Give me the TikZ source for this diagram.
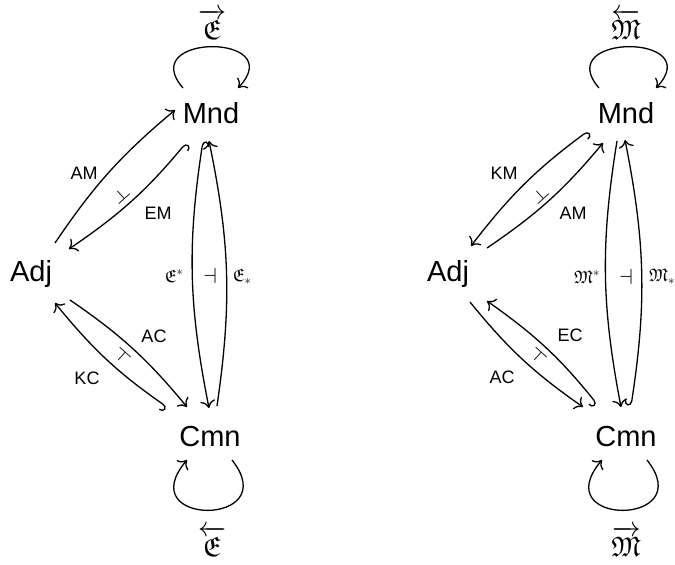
\RequirePackage{fix-cm}
\documentclass[tikz,border=0pt]{standalone}
\usepackage{amssymb}
\usepackage{fontspec}
\setmainfont{Liberation Sans}
\DeclareFontFamily{U}{euf}{}
\DeclareFontShape{U}{euf}{m}{n}{<-6>eufm5<6-8>eufm7<8->eufm10}{}
\usetikzlibrary{arrows.meta}
\newcommand{\hgt}{\rule{0pt}{0.74em}}
\tikzset{
  big/.style={inner sep=0pt,anchor=base,font=\fontsize{29}{34}\selectfont},
  lbl/.style={inner sep=0pt,font=\fontsize{18}{21}\selectfont},
  adjsym/.style={inner sep=0pt,font=\fontsize{22}{26}\selectfont},
  toplbl/.style={inner sep=0pt,anchor=base,font=\fontsize{28}{33}\selectfont},
  arr/.style={line width=1.3pt,-{Computer Modern Rightarrow[length=7.5pt,width=15pt]}},
  hk/.style={line width=1.3pt,{Hooks[right,length=5pt,width=14pt]}-{Computer Modern Rightarrow[length=7.5pt,width=15pt]}},
}
\begin{document}
\begin{tikzpicture}[x=1pt,y=-1pt]
\useasboundingbox (0,0) rectangle (675,565);
% ---------- left diagram ----------
\node[big] (Mnd) at (211,123) {Mnd};
\node[big] (Adj) at (31,281) {Adj};
\node[big] (Cmn) at (210,446) {Cmn};
\node[toplbl] (Etop) at (212,39) {$\overrightarrow{\mathfrak{E}\hgt}$};
\node[toplbl] (Ebot) at (212,556) {$\overleftarrow{\mathfrak{E}\hgt}$};
\draw[arr] ([shift={(-28,-35)}]Mnd.base) .. controls +(-48,-55) and +(52,-55) .. ([shift={(27,-35)}]Mnd.base);
\draw[arr] ([shift={(22,14)}]Cmn.base) .. controls +(53,67) and +(-57,67) .. ([shift={(-23,14)}]Cmn.base);
\draw[arr] ([shift={(24,-38)}]Adj.base) to[bend left=8] ([shift={(-36,-13)}]Mnd.base);
\draw[hk] ([shift={(-25,20)}]Mnd.base) to[bend left=8] ([shift={(38,-32)}]Adj.base);
\draw[arr] ([shift={(39,19)}]Adj.base) to[bend left=8] ([shift={(-23,-39)}]Cmn.base);
\draw[hk] ([shift={(-43,-39)}]Cmn.base) to[bend left=8] ([shift={(24,22)}]Adj.base);
\draw[hk] ([shift={(-8,18)}]Mnd.base) to[bend right=10] ([shift={(-1,-38)}]Cmn.base);
\draw[arr] ([shift={(7,-40)}]Cmn.base) to[bend right=10] ([shift={(-2,18)}]Mnd.base);
\node[lbl] (lAM) at (84,173) {AM};
\node[lbl] (lEM) at (158,213) {EM};
\node[lbl] (lAC) at (154,336) {AC};
\node[lbl] (lKC) at (87,378) {KC};
\node[adjsym,rotate=-48] (adjA) at (121,195) {$\dashv$};
\node[adjsym,rotate=48] (adjB) at (122,356) {$\dashv$};
\node[adjsym] (adjC) at (210,276) {$\dashv$};
\node[lbl] (lEs) at (174,276) {$\mathfrak{E}^*$};
\node[lbl] (lEl) at (242,277) {$\mathfrak{E}_*$};
% ---------- right diagram ----------
\node[big] (Mnd2) at (626,123) {Mnd};
\node[big] (Adj2) at (448,281) {Adj};
\node[big] (Cmn2) at (626,446) {Cmn};
\node[toplbl] (Mtop) at (626,39) {$\overleftarrow{\mathfrak{M}\hgt}$};
\node[toplbl] (Mbot) at (626,556) {$\overrightarrow{\mathfrak{M}\hgt}$};
\draw[arr] ([shift={(-27,-35)}]Mnd2.base) .. controls +(-48,-55) and +(52,-55) .. ([shift={(30,-35)}]Mnd2.base);
\draw[arr] ([shift={(21,14)}]Cmn2.base) .. controls +(53,67) and +(-57,67) .. ([shift={(-24,14)}]Cmn2.base);
\draw[hk] ([shift={(-38,8)}]Mnd2.base) to[bend right=8] ([shift={(23,-35)}]Adj2.base);
\draw[arr] ([shift={(39,-33)}]Adj2.base) to[bend right=8] ([shift={(-23,20)}]Mnd2.base);
\draw[hk] ([shift={(-29,-42)}]Cmn2.base) to[bend right=8] ([shift={(39,20)}]Adj2.base);
\draw[arr] ([shift={(22,21)}]Adj2.base) to[bend right=8] ([shift={(-43,-39)}]Cmn2.base);
\draw[arr] ([shift={(-9,18)}]Mnd2.base) to[bend right=10] ([shift={(-5,-39)}]Cmn2.base);
\draw[hk] ([shift={(5,-40)}]Cmn2.base) to[bend right=10] ([shift={(-1,17)}]Mnd2.base);
\node[lbl] (rKM) at (504,173) {KM};
\node[lbl] (rAM) at (573,213) {AM};
\node[lbl] (rEC) at (570,335) {EC};
\node[lbl] (rAC) at (502,377) {AC};
\node[adjsym,rotate=-48] (adjD) at (540,195) {$\dashv$};
\node[adjsym,rotate=48] (adjE) at (538,356) {$\dashv$};
\node[adjsym] (adjF) at (626,277) {$\dashv$};
\node[lbl] (rMs) at (587,277) {$\mathfrak{M}^*$};
\node[lbl] (rMl) at (662,277) {$\mathfrak{M}_*$};
\end{tikzpicture}
\end{document}
